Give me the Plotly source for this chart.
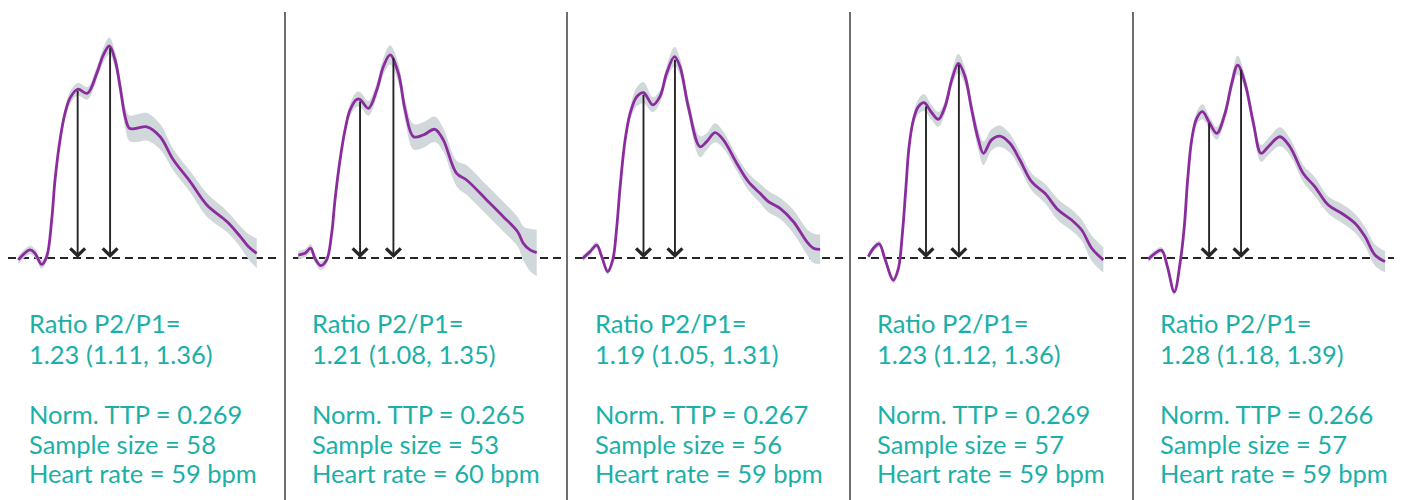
import plotly.graph_objects as go

# ---------------- data ----------------
ratio_ci = ["1.23 (1.11, 1.36)", "1.21 (1.08, 1.35)", "1.19 (1.05, 1.31)",
            "1.23 (1.12, 1.36)", "1.28 (1.18, 1.39)"]
norm_ttp = ["0.269", "0.265", "0.267", "0.269", "0.266"]
sample_size = [58, 53, 56, 57, 57]
heart_rate = [59, 60, 59, 59, 59]

# normalised time within cycle (t) and normalised amplitude (a), band half-width (hw)
t1 = [0, .049, .07, .098, .119, .14, .154, .175, .196, .217, .249, .29, .329, .357, .382,
      .406, .427, .448, .466, .497, .539, .595, .651, .721, .791, .876, .932, .966, 1.0]
a1 = [-.009, .038, .022, -.03, .006, .179, .368, .557, .683, .754, .796, .777, .871, .958, 1.0,
      .934, .808, .667, .612, .612, .619, .572, .462, .36, .25, .171, .1, .053, .022]
hw1 = [.02, .02, .02, .02, .02, .02, .02, .02, .025, .03, .03, .03, .03, .035, .04,
       .04, .045, .05, .06, .065, .065, .06, .05, .05, .055, .05, .05, .06, .07]

t2 = [0, .028, .052, .07, .094, .119, .14, .154, .175, .196, .217, .245, .259, .294, .329, .357,
      .385, .42, .448, .483, .524, .573, .608, .664, .706, .79, .86, .92, .944, .972, 1.0]
a2 = [.014, .022, .046, -.002, -.036, -.009, .116, .274, .462, .604, .698, .748, .748, .706, .792,
      .903, .958, .871, .698, .572, .58, .607, .557, .399, .368, .274, .195, .124, .069, .038, .025]
hw2 = [.02, .02, .02, .02, .02, .02, .02, .02, .02, .025, .03, .035, .035, .035, .035, .04,
       .045, .045, .05, .06, .06, .06, .055, .06, .07, .07, .07, .07, .08, .1, .11]

t3 = [0, .031, .059, .08, .105, .126, .143, .157, .178, .199, .227, .255, .294, .324, .352, .385,
      .408, .443, .492, .52, .555, .59, .646, .695, .744, .779, .828, .884, .94, .968, .996]
a3 = [-.002, .03, .061, .006, -.064, -.009, .148, .336, .557, .682, .761, .78, .722, .761, .871,
      .95, .903, .714, .525, .549, .591, .557, .447, .36, .305, .266, .234, .171, .077, .046, .041]
hw3 = [.015, .015, .015, .015, .015, .015, .02, .02, .025, .03, .045, .05, .035, .03, .035, .045,
       .04, .04, .05, .04, .045, .04, .035, .04, .045, .05, .05, .055, .06, .07, .07]

t4 = [0, .021, .046, .07, .105, .126, .143, .157, .171, .189, .21, .234, .263, .294, .322, .35,
      .378, .406, .434, .462, .483, .517, .552, .594, .636, .685, .741, .797, .853, .895, .937, .986]
a4 = [.006, .045, .066, -.005, -.104, -.05, .116, .321, .525, .651, .714, .733, .69, .654, .714,
      .84, .918, .855, .698, .557, .494, .557, .575, .541, .462, .36, .305, .226, .179, .132, .046, -.009]
hw4 = [.015, .015, .015, .015, .015, .015, .02, .02, .025, .03, .035, .04, .035, .035, .03, .035,
       .045, .04, .04, .05, .055, .05, .05, .045, .04, .04, .045, .05, .05, .05, .06, .06]

t5 = [0, .028, .056, .08, .109, .135, .151, .165, .182, .203, .227, .254, .287, .322, .35,
      .375, .406, .441, .473, .503, .552, .594, .65, .699, .755, .811, .867, .909, .951, .993]
a5 = [-.006, .022, .036, -.04, -.16, -.01, .148, .368, .557, .659, .69, .643, .588, .682, .824,
      .91, .824, .635, .494, .525, .572, .525, .399, .336, .25, .211, .164, .101, .014, -.017]
hw5 = [.015, .015, .015, .015, .015, .015, .02, .02, .025, .03, .035, .03, .03, .03, .035,
       .045, .035, .035, .04, .04, .045, .04, .04, .045, .04, .045, .045, .045, .05, .05]

# peak (arrow) positions
p1_t = [0.249, 0.259, 0.255, 0.242, 0.255]
p1_a = [0.796, 0.745, 0.777, 0.722, 0.643]
p2_t = [0.385, 0.399, 0.387, 0.380, 0.389]
p2_a = [0.997, 0.950, 0.942, 0.918, 0.895]

panels = [(t1, a1, hw1), (t2, a2, hw2), (t3, a3, hw3), (t4, a4, hw4), (t5, a5, hw5)]

# ---------------- layout constants (page pixels) ----------------
OFF = 8                      # page body margin
W, H = 1402 - OFF, 500 - OFF  # figure size
col_edges = [0, 285, 567, 850, 1133, 1402]
start_px = [18.3, 298.3, 582.7, 868.3, 1148.3]
text_px = [27, 310, 593, 875, 1158]
px_per_t = 238.4
base_py = 258
px_per_a = 212


def fx(px):
    return (px - OFF) / W


def fy(py):
    return 1 - (py - OFF) / H


PURPLE = "#8B2C9E"
BAND = "#D1D8DC"
TEAL = "#1BB0A7"
DARK = "#262626"
FONT = "Lato"

fig = go.Figure()
layout = dict(width=W, height=H, margin=dict(l=0, r=0, t=0, b=0),
              paper_bgcolor="white", plot_bgcolor="white", showlegend=False)
shapes = []
annotations = []

y_range = [-(500 - base_py) / px_per_a, (base_py - OFF) / px_per_a]

for k, (t, a, hw) in enumerate(panels):
    n = k + 1
    xa = "x" if n == 1 else f"x{n}"
    ya = "y" if n == 1 else f"y{n}"
    xkey = "xaxis" if n == 1 else f"xaxis{n}"
    ykey = "yaxis" if n == 1 else f"yaxis{n}"
    c0 = max(col_edges[k], OFF)
    c1 = col_edges[k + 1]
    r0 = -(start_px[k] - c0) / px_per_t
    r1 = r0 + (c1 - c0) / px_per_t
    layout[xkey] = dict(domain=[max(fx(c0), 0), min(fx(c1), 1)], range=[r0, r1],
                        visible=False, fixedrange=True)
    layout[ykey] = dict(domain=[0, 1], range=y_range, visible=False, anchor=xa, fixedrange=True)
    if n > 1:
        layout[xkey]["anchor"] = ya

    lower = [v - h for v, h in zip(a, hw)]
    upper = [v + h for v, h in zip(a, hw)]
    fig.add_trace(go.Scatter(x=t, y=lower, mode="lines", line=dict(width=0, shape="spline"),
                             hoverinfo="skip", xaxis=xa, yaxis=ya))
    fig.add_trace(go.Scatter(x=t, y=upper, mode="lines", line=dict(width=0, shape="spline"),
                             fill="tonexty", fillcolor=BAND, hoverinfo="skip", xaxis=xa, yaxis=ya))

    # dashed baseline
    shapes.append(dict(type="line", xref=xa, yref=ya,
                       x0=(col_edges[k] + 8 - start_px[k]) / px_per_t,
                       x1=(col_edges[k] + 278 - start_px[k]) / px_per_t,
                       y0=0, y1=0, line=dict(color=DARK, width=1.8, dash="8px,5px"), layer="below"))

    fig.add_trace(go.Scatter(x=t, y=a, mode="lines",
                             line=dict(color=PURPLE, width=2.8, shape="spline"),
                             xaxis=xa, yaxis=ya))

    # arrows P1 / P2
    for pt, pa in ((p1_t[k], p1_a[k]), (p2_t[k], p2_a[k])):
        annotations.append(dict(x=pt, y=0, ax=pt, ay=pa, xref=xa, yref=ya, axref=xa, ayref=ya,
                                text="", showarrow=True, arrowhead=4, arrowsize=1.5,
                                arrowwidth=1.9, arrowcolor=DARK, standoff=0))

    # text block
    lines = [("Ratio P2/P1=", 323), (ratio_ci[k], 354),
             (f"Norm. TTP = {norm_ttp[k]}", 414), (f"Sample size = {sample_size[k]}", 444),
             (f"Heart rate = {heart_rate[k]} bpm", 473)]
    for txt, py in lines:
        annotations.append(dict(x=fx(text_px[k]), y=fy(py), xref="paper", yref="paper",
                                xanchor="left", yanchor="middle", showarrow=False, text=txt,
                                font=dict(family=FONT, size=25.5, color=TEAL)))

# vertical dividers
for dx in col_edges[1:-1]:
    shapes.append(dict(type="line", xref="paper", yref="paper", x0=fx(dx), x1=fx(dx),
                       y0=0, y1=fy(12), line=dict(color="#4a4a4a", width=1.6)))

layout["shapes"] = shapes
layout["annotations"] = annotations
fig.update_layout(**layout)
fig.write_html("out.html")
